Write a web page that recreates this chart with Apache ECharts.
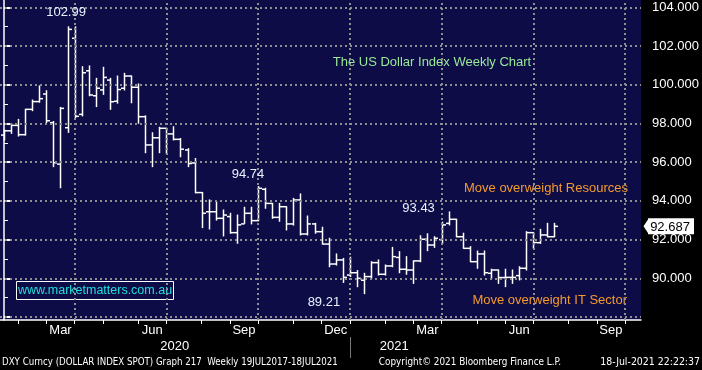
<!DOCTYPE html>
<html>
<head>
<meta charset="utf-8">
<script src="https://cdn.jsdelivr.net/npm/echarts@6/dist/echarts.min.js"></script>
<style>
html,body{margin:0;padding:0;background:#000;}
#chart{width:702px;height:370px;}
</style>
</head>
<body>
<div id="chart"></div>
<script>
// Weekly bars (week ending Friday)
const weekEnding = [
'2020-01-17','2020-01-24','2020-01-31','2020-02-07','2020-02-14','2020-02-21','2020-02-28',
'2020-03-06','2020-03-13','2020-03-20','2020-03-27','2020-04-03','2020-04-10','2020-04-17','2020-04-24',
'2020-05-01','2020-05-08','2020-05-15','2020-05-22','2020-05-29','2020-06-05','2020-06-12','2020-06-19','2020-06-26',
'2020-07-03','2020-07-10','2020-07-17','2020-07-24','2020-07-31','2020-08-07','2020-08-14','2020-08-21','2020-08-28',
'2020-09-04','2020-09-11','2020-09-18','2020-09-25','2020-10-02','2020-10-09','2020-10-16','2020-10-23','2020-10-30',
'2020-11-06','2020-11-13','2020-11-20','2020-11-27','2020-12-04','2020-12-11','2020-12-18','2020-12-25',
'2021-01-01','2021-01-08','2021-01-15','2021-01-22','2021-01-29','2021-02-05','2021-02-12','2021-02-19','2021-02-26',
'2021-03-05','2021-03-12','2021-03-19','2021-03-26','2021-04-02','2021-04-09','2021-04-16','2021-04-23','2021-04-30',
'2021-05-07','2021-05-14','2021-05-21','2021-05-28','2021-06-04','2021-06-11','2021-06-18','2021-06-25',
'2021-07-02','2021-07-09','2021-07-16'
];
const openVals = [97.40,97.62,97.90,97.42,98.73,99.13,99.52,98.04,95.90,97.78,102.40,98.47,100.72,99.43,99.73,
100.24,99.15,99.82,100.45,99.87,98.35,96.89,97.26,97.75,97.46,97.18,96.63,95.96,94.43,93.44,93.44,93.10,93.19,
92.36,92.81,93.36,92.98,94.60,93.87,93.15,93.70,92.81,94.05,92.29,92.81,92.41,91.77,90.74,90.95,90.17,
90.29,89.90,90.09,90.81,90.21,90.64,91.08,90.47,90.43,90.90,92.02,91.72,92.00,92.84,93.05,92.15,91.55,90.86,
91.26,90.26,90.43,90.04,90.05,90.14,90.52,92.36,91.84,92.24,92.15];
const highVals = [97.66,97.97,98.21,98.73,99.21,99.94,99.69,98.10,98.83,102.99,102.99,100.93,100.97,100.33,100.90,
100.33,100.45,100.59,100.45,100.04,98.39,97.52,97.80,97.75,97.83,97.22,96.70,96.19,94.43,94.05,93.96,93.53,93.36,
93.27,93.67,93.67,94.74,94.65,93.87,93.87,93.70,94.13,94.36,93.22,92.84,92.64,92.07,91.26,91.03,91.09,
90.40,90.26,90.86,90.95,90.69,91.60,91.38,91.12,90.90,92.20,92.30,92.15,92.90,93.43,93.05,92.33,91.64,91.41,
91.41,90.47,90.43,90.47,90.43,90.60,92.41,92.36,92.53,92.84,92.84];
const lowVals = [97.15,97.49,97.35,97.40,98.66,99.10,98.04,95.77,94.68,97.54,98.30,98.39,99.43,98.87,99.50,
98.73,99.05,99.73,99.07,98.01,96.49,95.77,96.49,96.45,97.15,96.28,95.77,94.42,92.62,92.55,93.01,92.19,92.33,
91.81,92.84,92.81,92.98,93.62,93.10,92.95,92.50,92.75,92.24,92.24,92.33,91.77,90.60,90.69,89.79,90.09,
89.57,89.21,90.00,90.17,90.17,90.60,90.29,90.21,89.74,90.86,91.43,91.60,91.81,92.76,92.15,91.55,90.86,90.52,
90.17,90.00,89.74,89.57,89.74,89.92,90.43,91.55,91.81,92.15,92.15];
const closeVals = [97.62,97.90,97.42,98.73,99.13,99.28,98.14,95.97,98.78,102.86,98.37,100.62,99.47,99.82,100.38,
99.12,99.75,100.45,99.87,98.35,96.89,97.26,97.75,97.46,97.18,96.67,95.93,94.43,93.36,93.44,93.10,93.27,92.36,
92.76,93.36,92.98,94.65,93.87,93.15,93.70,92.81,94.05,92.29,92.81,92.41,91.77,90.74,90.95,90.05,90.29,
90.00,90.09,90.81,90.21,90.64,91.12,90.47,90.43,90.90,92.02,91.72,92.07,92.76,93.05,92.15,91.55,90.86,91.26,
90.29,90.43,90.04,90.05,90.05,90.52,92.36,91.85,92.24,92.15,92.687];

// Axis ticks / labels (positions in bar-index units)
const monthTickIdx = [2,6,10,14,19,23,28,32,36,41,45,49,54,58,62,67,71,75,80,84,88];
const quarterGridIdx = [10,23,36,49,62,75,88];
const monthLabelPos = [8,21,34,47,60,73,86];
const monthLabelText = ['Mar','Jun','Sep','Dec','Mar','Jun','Sep'];
const yearLabelPos = [24.2,55.3];
const yearLabelText = ['2020','2021'];
const yearSepIdx = [49];
const yGridValues = [88,90,92,94,96,98,100,102,104];
const yLabelValues = [90,92,94,96,98,100,102,104];
const yMinorTicks = [89,91,93,95,97,99,101,103];
const lastPrice = 92.687;

// Annotations
const annoText = ['102.99','94.74','93.43','89.21'];
const annoIdx = [9,36,63,51];
const annoVal = [102.99,94.74,93.43,89.21];
const annoOffset = [[-1.5,-14],[-10,-12.5],[-30,-4],[-40,8.5]];

const xMin = -0.573, xMax = 90.27;
const yMin = 87.848, yMax = 104.377;

const ohlc = weekEnding.map((d,i)=>[i, openVals[i], highVals[i], lowVals[i], closeVals[i]]);

const chart = echarts.init(document.getElementById('chart'), null, {renderer:'canvas'});
const FONT = "'Liberation Sans', Arial, sans-serif";
const NARROW = "'DejaVu Sans Condensed', sans-serif";
const dotStyle = {type:[2,3], color:'#8f8f8f', width:2};

const option = {
  animation:false,
  backgroundColor:'#000',
  grid:{left:0,right:52,top:0,bottom:50,show:true,backgroundColor:'#0e0c46',borderWidth:0},
  xAxis:[{
    type:'value', min:xMin, max:xMax,
    axisLine:{show:true, onZero:false, lineStyle:{color:'#fff', width:1.5}},
    axisTick:{show:true, customValues:monthTickIdx, length:4, lineStyle:{color:'#fff', width:1}},
    axisLabel:{show:true, customValues:monthLabelPos, margin:4, color:'#fff', fontSize:13, fontFamily:FONT,
      formatter:function(v){const k=monthLabelPos.indexOf(v);return k>=0?monthLabelText[k]:'';}},
    splitLine:{show:false}
  },{
    type:'value', min:xMin, max:xMax, position:'bottom', offset:17,
    axisLine:{show:false},
    axisTick:{show:true, customValues:yearSepIdx, length:21, lineStyle:{color:'#777', width:1}},
    axisLabel:{show:true, customValues:yearLabelPos, margin:3, color:'#fff', fontSize:13, fontFamily:FONT,
      formatter:function(v){const k=yearLabelPos.indexOf(v);return k>=0?yearLabelText[k]:'';}},
    splitLine:{show:false}
  }],
  yAxis:[{
    type:'value', position:'right', min:yMin, max:yMax,
    axisLine:{show:true, lineStyle:{color:'#fff', width:1.5}},
    axisTick:{show:true, customValues:yGridValues, length:7, lineStyle:{color:'#fff', width:2}},
    axisLabel:{show:true, customValues:yLabelValues, margin:11, color:'#fff', fontSize:13, fontFamily:FONT,
      formatter:function(v){return v.toFixed(3);}},
    splitLine:{show:false}
  },{
    type:'value', position:'right', min:yMin, max:yMax,
    axisLine:{show:false},
    axisTick:{show:true, customValues:yMinorTicks, length:4, lineStyle:{color:'#fff', width:1}},
    axisLabel:{show:false},
    splitLine:{show:false}
  }],
  series:[{
    type:'custom',
    name:'DXY',
    data:ohlc,
    encode:{x:0, y:[1,2,3,4]},
    clip:true,
    renderItem:function(params, api){
      const i = api.value(0);
      const o = api.coord([i, api.value(1)]);
      const h = api.coord([i, api.value(2)]);
      const l = api.coord([i, api.value(3)]);
      const c = api.coord([i, api.value(4)]);
      const x = Math.round(h[0]) + 0.5;
      const st = {stroke:'#ffffff', lineWidth:1.5};
      return {type:'group', children:[
        {type:'line', shape:{x1:x, y1:h[1]-0.5, x2:x, y2:l[1]+0.5}, style:st},
        {type:'line', shape:{x1:x-3.5, y1:o[1], x2:x, y2:o[1]}, style:st},
        {type:'line', shape:{x1:x, y1:c[1], x2:x+3.5, y2:c[1]}, style:st}
      ]};
    },
    markLine:{
      silent:true, symbol:'none', animation:false,
      label:{show:false},
      lineStyle:dotStyle,
      data:[].concat(
        quarterGridIdx.map(v=>({xAxis:v})),
        yGridValues.map(v=>({yAxis:v}))
      )
    },
    markPoint:{
      silent:true, animation:false,
      data:[].concat(
        annoText.map((t,k)=>({coord:[annoIdx[k], annoVal[k]], symbol:'circle', symbolSize:0,
          label:{show:true, position:'inside', offset:annoOffset[k], formatter:t, color:'#e6f2ff',
            fontSize:13, fontFamily:FONT}})),
        [{coord:[xMax, lastPrice], symbol:'triangle', symbolRotate:90, symbolSize:[15,5], symbolOffset:[5,0],
          itemStyle:{color:'#fff'}, label:{show:false}},
         {coord:[xMax, lastPrice], symbol:'rect', symbolSize:[46,16], symbolOffset:[30,0],
          itemStyle:{color:'#fff'},
          label:{show:true, position:'inside', formatter:String(lastPrice), color:'#000', fontSize:13, fontFamily:FONT, offset:[-1,1]}}]
      )
    }
  }],
  graphic:[
    {type:'text', x:432, y:62, style:{text:'The US Dollar Index Weekly Chart', fill:'#98ea98', font:'13px '+FONT, textAlign:'center', textVerticalAlign:'middle'}},
    {type:'text', x:628, y:188, style:{text:'Move overweight Resources', fill:'#f49a2c', font:'13px '+FONT, textAlign:'right', textVerticalAlign:'middle'}},
    {type:'text', x:627, y:300, style:{text:'Move overweight IT Sector', fill:'#f49a2c', font:'13px '+FONT, textAlign:'right', textVerticalAlign:'middle'}},
    {type:'rect', shape:{x:16.5, y:281.5, width:157, height:18}, style:{fill:'#0e0c46', stroke:'#ffffff', lineWidth:1}},
    {type:'text', x:95, y:290.5, style:{text:'www.marketmatters.com.au', fill:'#22dede', font:'12.5px '+FONT, textAlign:'center', textVerticalAlign:'middle'}},
    {type:'text', x:2, y:362, scaleX:0.875, style:{text:'DXY Curncy (DOLLAR INDEX SPOT) Graph 217  Weekly 19JUL2017-18JUL2021', fill:'#fff', font:'11px '+NARROW, textAlign:'left', textVerticalAlign:'middle'}},
    {type:'text', x:470, y:362, scaleX:0.895, style:{text:'Copyright\u00a9 2021 Bloomberg Finance L.P.', fill:'#fff', font:'11px '+NARROW, textAlign:'center', textVerticalAlign:'middle'}},
    {type:'text', x:700, y:362, scaleX:0.95, style:{text:'18-Jul-2021 22:22:37', fill:'#fff', font:'11px '+NARROW, textAlign:'right', textVerticalAlign:'middle'}}
  ]
};
chart.setOption(option);
</script>
</body>
</html>
